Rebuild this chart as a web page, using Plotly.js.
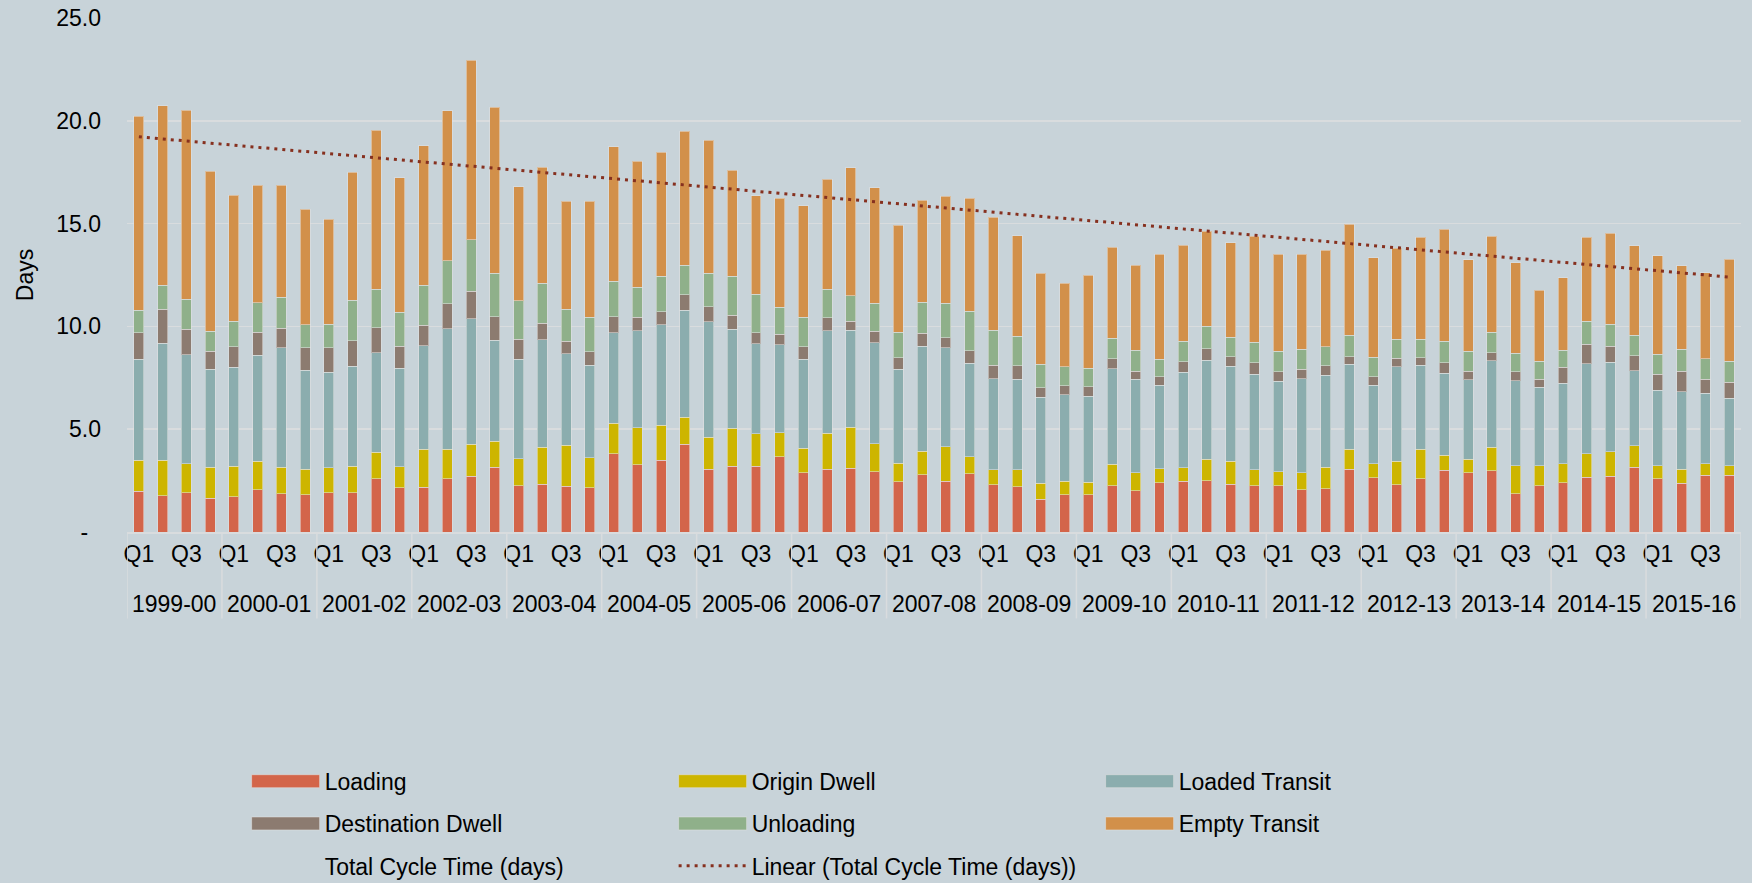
<!DOCTYPE html>
<html>
<head>
<meta charset="utf-8">
<script src="https://cdn.plot.ly/plotly-3.0.1.min.js"></script>
<style>
html,body{margin:0;padding:0;background:#C8D3D9;}
#chart{width:1752px;height:883px;}
</style>
</head>
<body>
<div id="chart"></div>
<script>
const years = ['1999-00','2000-01','2001-02','2002-03','2003-04','2004-05','2005-06','2006-07','2007-08','2008-09','2009-10','2010-11','2011-12','2012-13','2013-14','2014-15','2015-16'];
const quarters = ['Q1','Q2','Q3','Q4'];
const tickQuarters = ['Q1','Q3'];

const loading = [1.99,1.77,1.90,1.64,1.72,2.06,1.86,1.80,1.90,1.90,2.59,2.16,
  2.17,2.58,2.72,3.16,2.25,2.32,2.22,2.16,3.81,3.26,3.50,4.26,
  3.06,3.21,3.21,3.65,2.88,3.06,3.11,2.93,2.45,2.79,2.48,2.84,
  2.29,2.20,1.59,1.80,1.82,2.25,2.01,2.40,2.46,2.50,2.32,2.25,
  2.25,2.06,2.11,3.05,2.63,2.29,2.59,3.01,2.87,2.97,1.85,2.24,
  2.40,2.67,2.72,3.16,2.58,2.37,2.77,2.77];
const originDwell = [1.51,1.71,1.41,1.50,1.47,1.39,1.28,1.26,1.23,1.29,1.30,1.02,
  1.85,1.44,1.56,1.25,1.32,1.80,2.01,1.45,1.49,1.80,1.69,1.33,
  1.56,1.83,1.57,1.18,1.19,1.74,1.98,1.36,0.89,1.13,1.67,0.81,
  0.74,0.83,0.78,0.66,0.59,1.04,0.87,0.68,0.67,1.05,1.12,0.78,
  0.67,0.81,1.03,0.97,0.68,1.15,1.43,0.72,0.66,1.16,1.38,0.99,
  0.92,1.14,1.19,1.04,0.65,0.69,0.55,0.46];
const loadedTransit = [4.90,5.71,5.31,4.77,4.82,5.14,5.81,4.80,4.63,4.88,4.83,4.79,
  5.04,5.87,6.09,4.91,4.84,5.22,4.44,4.49,4.38,4.73,4.89,5.20,
  5.61,4.81,4.38,4.28,4.33,4.99,4.73,4.92,4.57,5.11,4.80,4.55,
  4.43,4.41,4.18,4.22,4.19,4.64,4.54,4.05,4.63,4.81,4.63,4.65,
  4.42,4.59,4.49,4.15,3.84,4.60,4.08,4.00,3.88,4.20,4.13,3.80,
  3.92,4.37,4.34,3.64,3.67,3.76,3.44,3.27];
const destinationDwell = [1.29,1.65,1.23,0.89,1.00,1.12,0.95,1.10,1.19,1.23,1.22,1.06,
  1.00,1.20,1.33,1.15,0.97,0.81,0.60,0.67,0.79,0.66,0.63,0.75,
  0.73,0.70,0.53,0.52,0.60,0.62,0.44,0.55,0.57,0.63,0.50,0.62,
  0.66,0.65,0.47,0.43,0.47,0.50,0.41,0.41,0.52,0.55,0.46,0.55,
  0.46,0.45,0.46,0.36,0.39,0.42,0.38,0.50,0.42,0.39,0.44,0.39,
  0.78,0.94,0.79,0.73,0.78,0.99,0.66,0.79];
const unloading = [1.10,1.15,1.46,0.96,1.23,1.44,1.51,1.12,1.15,1.98,1.86,1.67,
  1.93,2.10,2.51,2.12,1.87,1.94,1.57,1.67,1.73,1.45,1.72,1.43,
  1.63,1.88,1.88,1.29,1.44,1.39,1.23,1.36,1.23,1.52,1.68,1.91,
  1.69,1.42,1.13,0.93,0.89,0.99,1.00,0.87,0.99,1.09,0.95,0.99,
  1.00,0.99,0.91,1.03,0.95,0.92,0.90,1.04,0.97,0.99,0.89,0.89,
  0.81,1.12,1.06,0.99,0.96,1.07,1.01,1.02];
const emptyTransit = [9.44,8.74,9.21,7.78,6.13,5.72,5.46,5.61,5.12,6.22,7.73,6.53,
  6.79,7.31,8.74,8.06,5.54,5.64,5.25,5.64,6.55,6.14,6.05,6.53,
  6.47,5.16,4.78,5.32,5.43,5.35,6.22,5.62,5.22,4.96,5.21,5.51,
  5.49,4.91,4.43,4.05,4.52,4.42,4.14,5.09,4.68,4.64,4.60,5.17,
  4.72,4.62,4.70,5.40,4.86,4.43,4.96,5.46,4.44,4.68,4.41,3.44,
  3.54,4.10,4.44,4.36,4.80,4.07,4.18,4.96];

const seriesNames = ['Loading','Origin Dwell','Loaded Transit','Destination Dwell','Unloading','Empty Transit'];
const seriesColors = ['#D3654A','#CDB500','#8BADAE','#8C7B70','#8FB08A','#D2904A'];
const seriesValues = [loading, originDwell, loadedTransit, destinationDwell, unloading, emptyTransit];
const seriesLegend = ['legend','legend','legend','legend2','legend2','legend2'];

const categories = [];
years.forEach(y => quarters.forEach(q => categories.push(y + ' ' + q)));
const tickvals = categories.filter(c => tickQuarters.includes(c.split(' ')[1]));
const ticktext = tickvals.map(c => c.split(' ')[1]);

const totals = categories.map((_, i) => seriesValues.reduce((s, arr) => s + arr[i], 0));
// least-squares linear trend of the totals (Excel "Linear" trendline)
const n = totals.length;
const xs = totals.map((_, i) => i + 1);
const mx = xs.reduce((a, b) => a + b, 0) / n;
const my = totals.reduce((a, b) => a + b, 0) / n;
let sxy = 0, sxx = 0;
for (let i = 0; i < n; i++) { sxy += (xs[i] - mx) * (totals[i] - my); sxx += (xs[i] - mx) ** 2; }
const slope = sxy / sxx;
const intercept = my - slope * mx;
const trend = xs.map(x => intercept + slope * x);

const FONT = 'Liberation Sans, Arial, sans-serif';

const traces = seriesNames.map((name, k) => ({
  type: 'bar', name: name, x: categories, y: seriesValues[k],
  marker: { color: seriesColors[k], line: { color: 'rgba(225,225,225,0.55)', width: 1 } },
  legend: seriesLegend[k], hoverinfo: 'x+y+name'
}));
traces.push({
  type: 'scatter', mode: 'lines', name: 'Total Cycle Time (days)', x: categories, y: totals,
  line: { color: 'rgba(0,0,0,0)', width: 0 }, legend: 'legend3', hoverinfo: 'skip'
});
traces.push({
  type: 'scatter', mode: 'lines', name: 'Linear (Total Cycle Time (days))', x: categories, y: trend,
  line: { color: '#86301F', width: 3, dash: '3px,5px' }, legend: 'legend3', hoverinfo: 'skip'
});

const plotL = 127.4, plotR = 11, plotT = 18, plotB = 350.5;
const plotH = 883 - plotT - plotB;
const plotW = 1752 - plotL - plotR;

function legendCfg(yPix) {
  return {
    orientation: 'h', x: (247 - plotL) / plotW, xanchor: 'left',
    y: -(yPix - (883 - plotB)) / plotH, yanchor: 'middle',
    entrywidth: 344, itemwidth: 68, traceorder: 'normal',
    bgcolor: 'rgba(0,0,0,0)', font: { family: FONT, size: 23, color: '#000' }
  };
}

const annotations = years.map((y, i) => ({
  x: 4 * i + 1.5, xref: 'x', y: 0, yref: 'paper', yshift: -71.5, yanchor: 'middle',
  text: y, showarrow: false, font: { family: FONT, size: 23, color: '#000' }
}));
const shapes = [];
for (let i = 0; i <= years.length; i++) {
  shapes.push({ type: 'line', xref: 'x', yref: 'paper', x0: 4 * i - 0.5, x1: 4 * i - 0.5,
    y0: 0, y1: -(619 - (883 - plotB)) / plotH, line: { color: '#D9DCDE', width: 1.5 } });
}

const layout = {
  width: 1752, height: 883,
  paper_bgcolor: '#C8D3D9', plot_bgcolor: '#C8D3D9',
  margin: { l: plotL, r: plotR, t: plotT, b: plotB, autoexpand: false },
  barmode: 'stack', bargap: 0.58,
  font: { family: FONT, size: 23, color: '#000' },
  showlegend: true,
  xaxis: {
    type: 'category', range: [-0.5, categories.length - 0.5],
    tickvals: tickvals, ticktext: ticktext, tickangle: 0,
    showgrid: false, zeroline: false, ticks: '',
    showline: true, linecolor: '#D9DCDE', linewidth: 1.5,
    ticklabelstandoff: 1, tickfont: { family: FONT, size: 23, color: '#000' }
  },
  yaxis: {
    range: [0, 25], tickvals: [0, 5, 10, 15, 20, 25],
    ticktext: ['-\u00a0\u00a0', '5.0', '10.0', '15.0', '20.0', '25.0'],
    showgrid: true, gridcolor: '#D9DCDE', gridwidth: 1.5, zeroline: false, showline: false, ticks: '',
    ticklabelstandoff: 25, tickfont: { family: FONT, size: 23, color: '#000' },
    title: { text: 'Days', standoff: 16, font: { family: FONT, size: 23, color: '#000' } }
  },
  legend: legendCfg(782),
  legend2: legendCfg(824.3),
  legend3: legendCfg(866.7),
  annotations: annotations,
  shapes: shapes
};

function widenLegendSwatches() {
  document.querySelectorAll('g.legendpoints path').forEach(p => p.setAttribute('d', 'M34,6.5H-34V-6.5H34Z'));
}
Plotly.newPlot('chart', traces, layout, { staticPlot: true, displayModeBar: false }).then(() => {
  widenLegendSwatches();
  setTimeout(widenLegendSwatches, 0);
});
</script>
</body>
</html>
